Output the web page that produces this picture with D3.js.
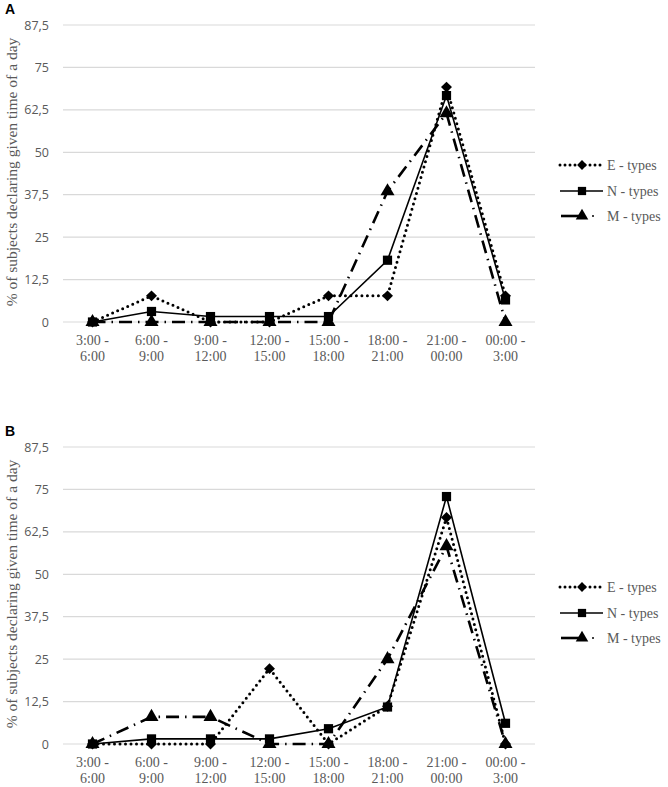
<!DOCTYPE html>
<html>
<head>
<meta charset="utf-8">
<script src="https://cdn.jsdelivr.net/npm/d3@7"></script>
<style>
  body { margin: 0; background: #fff; }
  svg { display: block; }
  .serif { font-family: "Liberation Serif", "DejaVu Serif", serif; }
</style>
</head>
<body>
<svg id="chart" width="668" height="787"></svg>
<script>
// time slots (two-line labels)
var slots = [
    ["3:00 -", "6:00"], ["6:00 -", "9:00"], ["9:00 -", "12:00"], ["12:00 -", "15:00"],
    ["15:00 -", "18:00"], ["18:00 -", "21:00"], ["21:00 -", "00:00"], ["00:00 -", "3:00"]
];
var yTicks = [0, 12.5, 25, 37.5, 50, 62.5, 75, 87.5];
var seriesNames = ["E - types", "N - types", "M - types"];

// panel A
var aE = [0, 7.7, 0, 0, 7.7, 7.7, 69.2, 7.7];
var aN = [0, 3.1, 1.6, 1.6, 1.6, 18.2, 66.7, 6.5];
var aM = [0, 0, 0, 0, 0, 38.5, 61.5, 0];

// panel B
var bE = [0, 0, 0, 22.2, 0, 11.1, 66.7, 0];
var bN = [0, 1.5, 1.5, 1.5, 4.5, 10.9, 72.9, 6.1];
var bM = [0, 8.0, 8.0, 0, 0, 25.0, 58.3, 0];

var svg = d3.select('#chart');
var grey = '#595959';

// line styles per series (diamond = rotated square)
var styles = [
    {dash: '0,5.5', width: 3, cap: 'round', sym: d3.symbolSquare, rot: 45, size: 60},
    {dash: null, width: 1.6, cap: 'butt', sym: d3.symbolSquare, rot: 0, size: 85},
    {dash: '13,6,1.5,6', width: 2.6, cap: 'butt', sym: d3.symbolTriangle, rot: 0, size: 85}
];

function drawPanel(letter, top, data) {
    var g = svg.append('g').attr('transform', 'translate(0,' + top + ')');

    var x = d3.scaleBand().domain(d3.range(slots.length)).range([63, 535]);
    var y = d3.scaleLinear().domain([0, 87.5]).range([322, 25]);
    var cx = function(i) { return x(i) + x.bandwidth() / 2; };

    g.append('text')
        .attr('x', 5).attr('y', 14)
        .style('font-family', '"Liberation Sans", Arial, sans-serif')
        .style('font-weight', 'bold').style('font-size', '14px')
        .text(letter);

    // grid lines
    g.selectAll('.grid')
        .data(yTicks)
        .enter()
        .append('line')
        .attr('x1', 63).attr('x2', 535)
        .attr('y1', function(d) { return y(d); })
        .attr('y2', function(d) { return y(d); })
        .attr('stroke', '#d9d9d9').attr('stroke-width', 1.2);

    // y axis tick labels
    var yAxis = d3.axisLeft(y).tickValues(yTicks).tickSize(0).tickPadding(0)
        .tickFormat(function(d) { return String(d).replace('.', ','); });
    var ya = g.append('g').attr('transform', 'translate(49,0)').call(yAxis);
    ya.select('.domain').remove();
    ya.selectAll('text')
        .attr('fill', grey)
        .style('font-family', '"Open Sans", sans-serif')
        .style('font-size', '12.5px');

    // x labels
    var xl = g.selectAll('.xlab')
        .data(slots)
        .enter()
        .append('text')
        .attr('class', 'serif')
        .attr('text-anchor', 'middle')
        .attr('fill', grey)
        .style('font-size', '14px');
    xl.append('tspan')
        .attr('x', function(d, i) { return cx(i); }).attr('y', 345)
        .text(function(d) { return d[0]; });
    xl.append('tspan')
        .attr('x', function(d, i) { return cx(i); }).attr('y', 361)
        .text(function(d) { return d[1]; });

    // y title
    g.append('text')
        .attr('class', 'serif')
        .attr('transform', 'translate(17,' + 172 + ') rotate(-90)')
        .attr('text-anchor', 'middle')
        .attr('fill', grey)
        .style('font-size', '15.5px')
        .text('% of subjects declaring given time of a day');

    var line = d3.line()
        .x(function(d, i) { return cx(i); })
        .y(function(d) { return y(d); });

    data.forEach(function(vals, s) {
        var st = styles[s];
        g.append('path')
            .datum(vals)
            .attr('d', line)
            .attr('fill', 'none')
            .attr('stroke', '#000')
            .attr('stroke-width', st.width)
            .attr('stroke-linecap', st.cap)
            .attr('stroke-dasharray', st.dash);
        g.selectAll('.m' + s)
            .data(vals)
            .enter()
            .append('path')
            .attr('transform', function(d, i) {
                return 'translate(' + cx(i) + ',' + y(d) + ') rotate(' + st.rot + ')';
            })
            .attr('d', d3.symbol().type(st.sym).size(st.size))
            .attr('fill', '#000');
    });

    // legend
    var legY = [165, 191, 216];
    var lg = g.selectAll('.leg')
        .data(seriesNames)
        .enter()
        .append('g')
        .attr('transform', function(d, i) { return 'translate(0,' + legY[i] + ')'; });
    lg.each(function(d, s) {
        var st = styles[s];
        var el = d3.select(this);
        if (s == 2) {
            el.append('line').attr('x1', 561).attr('x2', 582).attr('y1', 0).attr('y2', 0)
                .attr('stroke', '#000').attr('stroke-width', st.width);
            el.append('circle').attr('cx', 593).attr('cy', 0).attr('r', 1).attr('fill', '#000');
        } else {
            el.append('line').attr('x1', 560).attr('x2', 603).attr('y1', 0).attr('y2', 0)
                .attr('stroke', '#000').attr('stroke-width', st.width)
                .attr('stroke-linecap', st.cap)
                .attr('stroke-dasharray', s == 0 ? '0,5' : null);
        }
        el.append('path')
            .attr('transform', 'translate(582,0) rotate(' + st.rot + ')')
            .attr('d', d3.symbol().type(st.sym).size(st.size * 0.8))
            .attr('fill', '#000');
        el.append('text')
            .attr('class', 'serif')
            .attr('x', 607).attr('y', 5)
            .attr('fill', grey)
            .style('font-size', '14px')
            .text(d);
    });
}

drawPanel('A', 0, [aE, aN, aM]);
drawPanel('B', 422, [bE, bN, bM]);
</script>
</body>
</html>
